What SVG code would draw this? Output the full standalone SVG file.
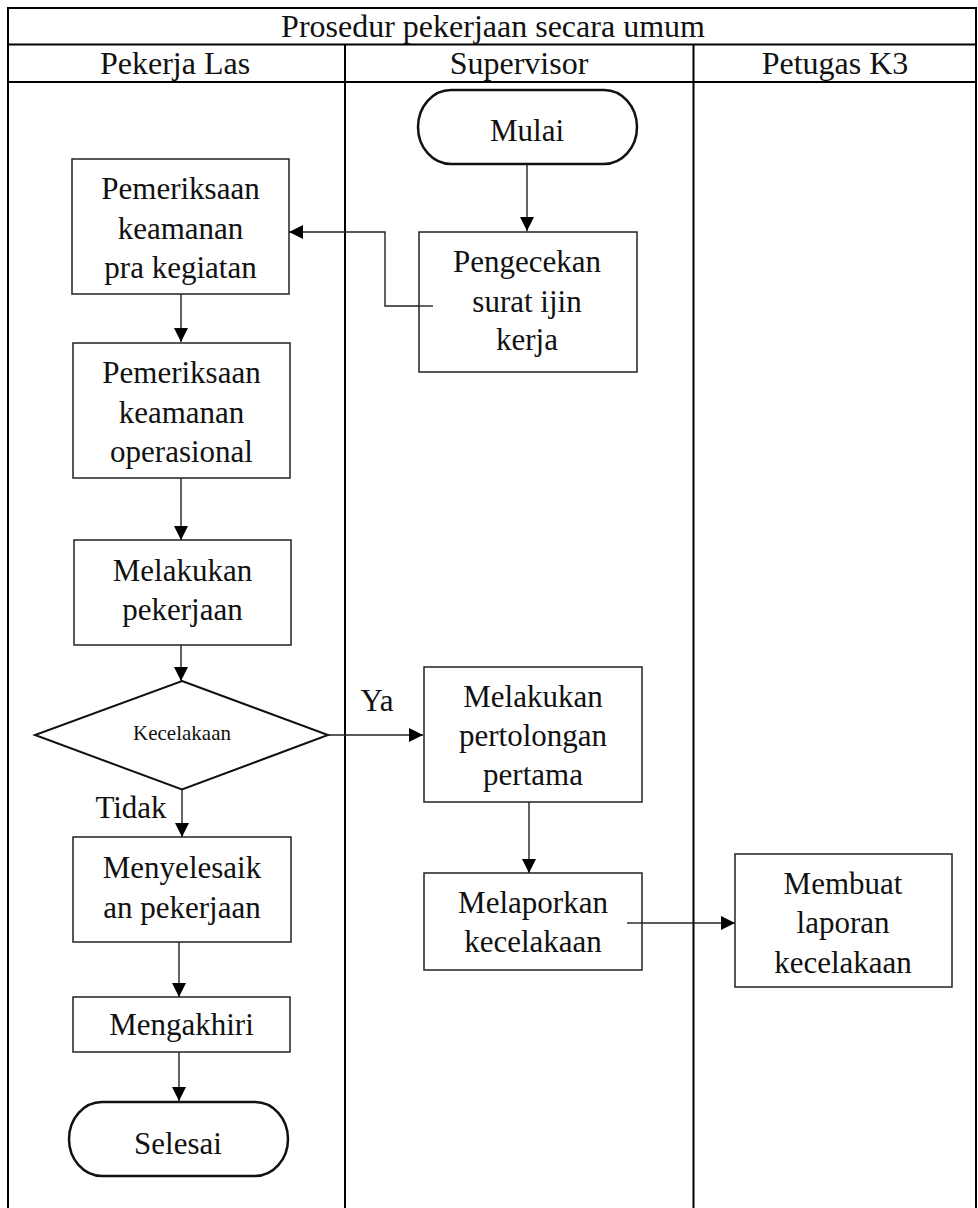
<svg xmlns="http://www.w3.org/2000/svg" width="978" height="1208" viewBox="0 0 978 1208">
<style>
.tbl{stroke:#000;stroke-width:2;fill:none}
.box{fill:#fff;stroke:#222;stroke-width:1.5}
.term{fill:#fff;stroke:#111;stroke-width:2.5}
.dia{fill:#fff;stroke:#111;stroke-width:2}
.con{fill:none;stroke:#222;stroke-width:1.4}
text{font-family:"Liberation Serif","Times New Roman",serif;font-size:31px;fill:#111;text-anchor:middle}
.hdr{font-size:32px}
.small{font-size:21px}
</style>
<defs>
<marker id="arr" markerUnits="userSpaceOnUse" markerWidth="15" markerHeight="15" refX="14" refY="7" orient="auto">
<path d="M0,0 L14,7 L0,14 z" fill="#000"/>
</marker>
</defs>
<rect width="978" height="1208" fill="#fff"/>
<g id="table">
<path class="tbl" d="M8,1208 V8 H976 V1208 M8,44.5 H976 M8,82 H976 M345,44.5 V1208 M693.5,44.5 V1208"/>
<text class="hdr" x="493" y="36.5">Prosedur pekerjaan secara umum</text>
<text class="hdr" x="175" y="74">Pekerja Las</text>
<text class="hdr" x="519" y="74">Supervisor</text>
<text class="hdr" x="835" y="74">Petugas K3</text>
</g>
<g id="connectors">
<path class="con" d="M527,164 V231" marker-end="url(#arr)"/>
<path class="con" d="M433,306 H385 V232 H289" marker-end="url(#arr)"/>
<path class="con" d="M181,294 V342" marker-end="url(#arr)"/>
<path class="con" d="M181,478 V540" marker-end="url(#arr)"/>
<path class="con" d="M181,645 V681" marker-end="url(#arr)"/>
<path class="con" d="M182,790 V837" marker-end="url(#arr)"/>
<path class="con" d="M179,942 V997" marker-end="url(#arr)"/>
<path class="con" d="M179,1052 V1101" marker-end="url(#arr)"/>
<path class="con" d="M328,735 H423" marker-end="url(#arr)"/>
<path class="con" d="M529,802 V873" marker-end="url(#arr)"/>
<path class="con" d="M627,923 H735" marker-end="url(#arr)"/>
<text x="377" y="711">Ya</text>
<text x="131" y="818">Tidak</text>
</g>
<g id="mulai">
<rect class="term" x="418" y="90" width="219" height="74" rx="33" ry="37"/>
<text x="527" y="141">Mulai</text>
</g>
<g id="pengecekan">
<rect class="box" x="419" y="232" width="218" height="140"/>
<text x="527" y="272">Pengecekan</text>
<text x="527" y="311.5">surat ijin</text>
<text x="527" y="350">kerja</text>
</g>
<path class="con" d="M419,306 H433"/>
<g id="pra-kegiatan">
<rect class="box" x="72" y="159" width="217" height="135"/>
<text x="180.5" y="199">Pemeriksaan</text>
<text x="180.5" y="238.5">keamanan</text>
<text x="180.5" y="277.5">pra kegiatan</text>
</g>
<g id="operasional">
<rect class="box" x="73" y="343" width="217" height="135"/>
<text x="181.5" y="383">Pemeriksaan</text>
<text x="181.5" y="422.5">keamanan</text>
<text x="181.5" y="461.5">operasional</text>
</g>
<g id="melakukan-pekerjaan">
<rect class="box" x="74" y="540" width="217" height="105"/>
<text x="182.5" y="581">Melakukan</text>
<text x="182.5" y="620">pekerjaan</text>
</g>
<g id="kecelakaan">
<polygon class="dia" points="182,681 328,735 182,789.5 35,735"/>
<text class="small" x="182" y="740">Kecelakaan</text>
</g>
<g id="menyelesaikan">
<rect class="box" x="73" y="837" width="218" height="105"/>
<text x="182" y="878">Menyelesaik</text>
<text x="182" y="917.5">an pekerjaan</text>
</g>
<g id="mengakhiri">
<rect class="box" x="73" y="997" width="217" height="55"/>
<text x="181.5" y="1035">Mengakhiri</text>
</g>
<g id="selesai">
<rect class="term" x="69" y="1102" width="219" height="74" rx="33" ry="37"/>
<text x="178" y="1154">Selesai</text>
</g>
<g id="pertolongan">
<rect class="box" x="424" y="667" width="218" height="135"/>
<text x="533" y="706.5">Melakukan</text>
<text x="533" y="746">pertolongan</text>
<text x="533" y="785">pertama</text>
</g>
<g id="melaporkan">
<rect class="box" x="424" y="873" width="218" height="97"/>
<text x="533" y="913">Melaporkan</text>
<text x="533" y="951.5">kecelakaan</text>
</g>
<path class="con" d="M627,923 H642"/>
<g id="membuat-laporan">
<rect class="box" x="735" y="854" width="217" height="133"/>
<text x="843" y="894">Membuat</text>
<text x="843" y="933">laporan</text>
<text x="843" y="972.5">kecelakaan</text>
</g>
</svg>
